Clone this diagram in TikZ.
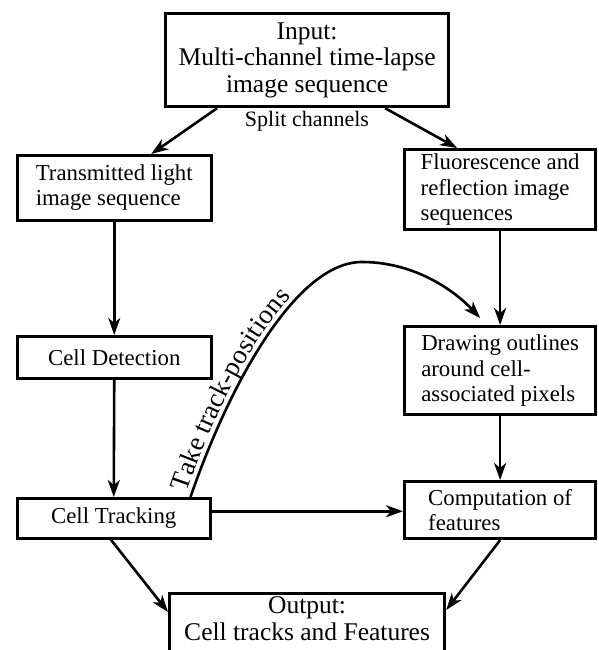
\documentclass[tikz,border=0pt]{standalone}
\usepackage{fontspec}
\setmainfont{Liberation Serif}
\usetikzlibrary{arrows.meta,decorations.text}
\begin{document}
\begin{tikzpicture}[x=1pt,y=-1pt,
  box/.style={draw, line width=2.5pt, rectangle, anchor=north west, inner sep=0pt,
    align=left, font=\fontsize{22.8}{25.5}\selectfont},
  thickbox/.style={box, line width=3.2pt},
  bigbox/.style={box, line width=3.2pt, align=center, font=\fontsize{25.5}{26.5}\selectfont},
  conn/.style={line width=2.6pt, -{Stealth[length=17pt,width=12pt,inset=5pt]}},
  lbl/.style={font=\fontsize{22}{24}\selectfont, inner sep=0pt}
]
\useasboundingbox (0,0) rectangle (598,650);
\node[bigbox, minimum width=283pt, minimum height=93pt] (in) at (164,12)
  {Input:\\Multi-channel time-lapse\\image sequence};
\node[box, minimum width=194pt, minimum height=65pt] (tl) at (16,154)
  {Transmitted light\\image sequence};
\node[thickbox, minimum width=191pt, minimum height=80pt] (fl) at (403,148)
  {Fluorescence and\\reflection image\\sequences};
\node[box, align=center, minimum width=194pt, minimum height=42pt] (cd) at (16,335)
  {Cell Detection};
\node[thickbox, minimum width=191pt, minimum height=88pt] (dr) at (403,325)
  {Drawing outlines\\around cell-\\associated pixels};
\node[box, align=center, minimum width=193pt, minimum height=40pt] (ct) at (16,497)
  {Cell Tracking};
\node[thickbox, minimum width=191pt, minimum height=57pt] (cp) at (403,480)
  {Computation of\\features};
\node[bigbox, minimum width=275pt, minimum height=64pt] (out) at (168,592)
  {Output:\\Cell tracks and Features\rule[-14pt]{0pt}{0pt}};
\node[lbl, anchor=base] (sp) at (307,127) {Split channels};

\draw[conn] ([xshift=-90pt]in.south) -- ([xshift=37pt]tl.north);
\draw[conn] ([xshift=78pt]in.south) -- ([xshift=-43pt]fl.north);
\draw[conn] (tl.south) -- (cd.north);
\draw[conn] (cd.south) -- (ct.north);
\draw[conn] (fl.south) -- (dr.north);
\draw[conn] (dr.south) -- (cp.north);
\draw[conn] ([yshift=7pt]ct.east) -- ([yshift=7pt]ct.east -| cp.west);
\draw[conn] ([xshift=-3pt]ct.south) -- ([yshift=-20pt]out.north west);
\draw[conn] (cp.south) -- ([yshift=-18pt]out.north east);

\coordinate (pk) at (362,262);
\draw[conn] ([xshift=-21pt]ct.north east) .. controls (228,388) and (295,262) .. (pk)
  .. controls (412,262) and (452,288) .. ([xshift=-20pt,yshift=7pt]dr.north);
\path[decorate, decoration={text along path, raise=5pt, text align={left indent=3pt},
  text={|\fontsize{27}{29}\selectfont|Take track-positions}}]
  ([xshift=-21pt]ct.north east) .. controls (228,388) and (295,262) .. (pk);
\end{tikzpicture}
\end{document}
